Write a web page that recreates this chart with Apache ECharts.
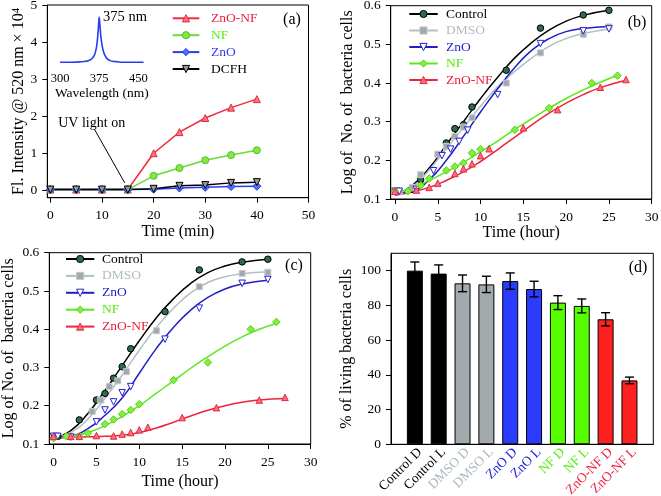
<!DOCTYPE html>
<html><head><meta charset="utf-8">
<script src="https://cdn.jsdelivr.net/npm/echarts@6/dist/echarts.min.js"></script>
<style>html,body{margin:0;padding:0;background:#fff}#c{width:661px;height:496px}</style>
</head><body><div id="c"></div>
<script>
const FONT = '"Liberation Serif", "Times New Roman", serif';

// ---------- Panel (a) ----------
const timeA = [0, 5, 10, 15, 20, 25, 30, 35, 40];
const aZnONF = [0.02, 0.02, 0.02, 0.02, 1.0, 1.57, 1.95, 2.23, 2.46];
const aNF = [0.02, 0.02, 0.02, 0.02, 0.39, 0.6, 0.81, 0.95, 1.08];
const aZnO = [0.02, 0.02, 0.02, 0.02, 0.03, 0.06, 0.08, 0.1, 0.11];
const aDCFH = [0.02, 0.02, 0.02, 0.02, 0.04, 0.12, 0.14, 0.2, 0.22];
const aXTicks = [0, 10, 20, 30, 40, 50];
const aYTicks = [0, 1, 2, 3, 4, 5];
// inset spectrum
const insetWl = [300, 320, 340, 350, 355, 360, 364, 367, 370, 372, 374, 375, 376, 378, 380, 383, 386, 390, 395, 400, 410, 420, 440, 460];
const insetI = [0.01, 0.01, 0.02, 0.03, 0.05, 0.08, 0.13, 0.2, 0.35, 0.55, 0.85, 1.0, 0.88, 0.6, 0.42, 0.25, 0.16, 0.09, 0.05, 0.03, 0.02, 0.01, 0.01, 0.01];
const insetTicks = [300, 375, 450];

// ---------- Panel (b) ----------
const bControlT = [0, 0.5, 2, 3, 6, 7, 8, 9, 13, 17, 22, 25];
const bControl = [0.12, 0.12, 0.125, 0.15, 0.245, 0.282, 0.292, 0.338, 0.433, 0.542, 0.576, 0.588];
const bDMSOT = [0, 0.5, 2, 3, 5, 6, 7, 8, 9, 13, 17, 22, 25];
const bDMSO = [0.12, 0.12, 0.13, 0.163, 0.216, 0.236, 0.262, 0.286, 0.31, 0.40, 0.478, 0.526, 0.545];
const bZnOT = [0, 0.5, 2.5, 4.5, 5.5, 6.5, 7.5, 8.5, 12, 17, 22, 25];
const bZnO = [0.12, 0.12, 0.125, 0.173, 0.212, 0.229, 0.249, 0.278, 0.37, 0.502, 0.535, 0.54];
const bNFT = [0, 1.5, 3, 4, 6, 7, 8, 9, 10, 14, 18, 23, 26];
const bNF = [0.12, 0.12, 0.135, 0.153, 0.174, 0.184, 0.193, 0.219, 0.229, 0.279, 0.335, 0.40, 0.419];
const bZnONFT = [0, 2.5, 4, 5, 7, 8, 9, 10, 11, 15, 19, 24, 27];
const bZnONF = [0.12, 0.123, 0.13, 0.141, 0.166, 0.178, 0.191, 0.212, 0.23, 0.284, 0.331, 0.389, 0.409];
// fitted curves
const fitT25 = [0, 2, 4, 6, 8, 10, 12, 14, 16, 18, 20, 22, 25];
const fitT26 = [0, 2, 4, 6, 8, 10, 12, 14, 16, 18, 20, 22, 24, 26];
const fitT27 = [0, 2, 4, 6, 8, 10, 12, 14, 16, 18, 20, 22, 24, 27];
const bFitControl = [0.11, 0.135, 0.18, 0.24, 0.3, 0.36, 0.415, 0.465, 0.505, 0.537, 0.56, 0.575, 0.588];
const bFitDMSO = [0.115, 0.13, 0.175, 0.23, 0.285, 0.34, 0.39, 0.43, 0.465, 0.495, 0.515, 0.528, 0.54];
const bFitZnO = [0.115, 0.12, 0.15, 0.2, 0.262, 0.325, 0.385, 0.44, 0.485, 0.515, 0.533, 0.541, 0.546];
const bFitNF = [0.115, 0.128, 0.148, 0.17, 0.195, 0.222, 0.25, 0.28, 0.308, 0.335, 0.36, 0.382, 0.402, 0.42];
const bFitZnONF = [0.11, 0.118, 0.13, 0.148, 0.17, 0.197, 0.228, 0.26, 0.292, 0.322, 0.348, 0.37, 0.388, 0.407];

// ---------- Panel (c) ----------
const cControlT = [0, 0.5, 3, 5, 6, 7, 8, 9, 13, 17, 22, 25];
const cControl = [0.12, 0.12, 0.163, 0.215, 0.232, 0.272, 0.302, 0.349, 0.446, 0.555, 0.576, 0.583];
const cDMSOT = [0, 2, 4.5, 5.5, 6.5, 7.5, 8.5, 12, 17, 22, 25];
const cDMSO = [0.12, 0.12, 0.185, 0.215, 0.25, 0.265, 0.289, 0.396, 0.511, 0.546, 0.549];
const cZnOT = [0, 0.5, 2, 5, 6, 7, 8, 9, 13, 17, 22, 25];
const cZnO = [0.12, 0.12, 0.118, 0.158, 0.189, 0.21, 0.234, 0.25, 0.374, 0.455, 0.52, 0.53];
const cNFT = [0, 1.5, 3, 4, 6, 7, 8, 9, 10, 14, 18, 23, 26];
const cNF = [0.115, 0.12, 0.12, 0.128, 0.152, 0.164, 0.178, 0.189, 0.204, 0.267, 0.313, 0.4, 0.419];
const cZnONFT = [0, 2, 3, 5, 7, 8, 9, 10, 11, 15, 19, 24, 27];
const cZnONF = [0.12, 0.12, 0.12, 0.122, 0.121, 0.126, 0.13, 0.137, 0.144, 0.169, 0.195, 0.215, 0.222];
const cFitControl = [0.115, 0.135, 0.18, 0.24, 0.305, 0.37, 0.43, 0.48, 0.52, 0.548, 0.565, 0.575, 0.583];
const cFitDMSO = [0.115, 0.13, 0.165, 0.22, 0.28, 0.345, 0.405, 0.455, 0.495, 0.522, 0.537, 0.545, 0.55];
const cFitZnO = [0.115, 0.12, 0.14, 0.175, 0.22, 0.285, 0.35, 0.405, 0.45, 0.483, 0.505, 0.518, 0.528];
const cFitNF = [0.115, 0.12, 0.13, 0.148, 0.172, 0.2, 0.233, 0.265, 0.298, 0.328, 0.356, 0.38, 0.4, 0.415];
const cFitZnONF = [0.118, 0.118, 0.119, 0.12, 0.123, 0.13, 0.142, 0.157, 0.173, 0.188, 0.2, 0.209, 0.215, 0.219];
const hourTicks = [0, 5, 10, 15, 20, 25, 30];
const logTicks = [0.1, 0.2, 0.3, 0.4, 0.5, 0.6];

// ---------- Panel (d) ----------
const dCats = ['Control D', 'Control L', 'DMSO D', 'DMSO L', 'ZnO D', 'ZnO L', 'NF D', 'NF L', 'ZnO-NF D', 'ZnO-NF L'];
const dVals = [100, 98.3, 92.7, 92.1, 94, 89.4, 81.6, 79.7, 72, 36.8];
const dErr = [5, 5, 4.8, 4.7, 4.7, 4.5, 4, 4, 3.8, 1.9];
const dYTicks = [0, 20, 40, 60, 80, 100];
const dBarColors = ['#000000', '#000000', '#a2aaae', '#a2aaae', '#2b3cff', '#2b3cff', '#55ff00', '#55ff00', '#ff2020', '#ff2020'];
const dLabelColors = ['#000000', '#000000', '#aab8be', '#aab8be', '#2020dd', '#2020dd', '#55ee11', '#55ee11', '#ee2044', '#ee2044'];

// ---------- helpers ----------
const zip = (xs, ys) => xs.map((x, i) => [x, ys[i]]);
const black = { color: '#000', width: 1 };

function valAxis(gi, min, max, ticks, name, nameGap, isY, extra) {
  return Object.assign({
    type: 'value', gridIndex: gi, min: min, max: max,
    name: name, nameLocation: 'middle', nameGap: nameGap, nameRotate: isY ? 90 : 0,
    nameTextStyle: { fontFamily: FONT, fontSize: 16, color: '#000' },
    axisLine: { show: true, onZero: false, lineStyle: black },
    axisTick: { show: true, length: 5, inside: false, lineStyle: black, customValues: ticks },
    axisLabel: { fontFamily: FONT, fontSize: 13.5, color: '#000', margin: isY ? 10 : 11, customValues: ticks },
    splitLine: { show: false }
  }, extra || {});
}

const st = {
  Control: { line: '#000000', sym: 'circle', size: 6.5, rot: 0, fill: '#2d6b4d', border: '#000000', text: '#000000' },
  DMSO: { line: '#b3bec4', sym: 'rect', size: 6, rot: 0, fill: '#a2a9ad', border: '#c5ccd0', text: '#b0bcc2' },
  ZnO: { line: '#1f1fc8', sym: 'triangle', size: 6.5, rot: 180, fill: '#ffffff', border: '#2323d0', text: '#1f1fc8' },
  NF: { line: '#58e81c', sym: 'diamond', size: 7.5, rot: 0, fill: '#7df040', border: '#5acc18', text: '#55e811' },
  'ZnO-NF': { line: '#ee2438', sym: 'triangle', size: 6.5, rot: 0, fill: '#f27084', border: '#e8283c', text: '#ee1c3a' }
};

function fitSeries(panel, key, ai, t, v) {
  const s = st[key];
  return {
    type: 'line', name: panel + '|' + key, xAxisIndex: ai, yAxisIndex: ai,
    data: zip(t, v), smooth: 0.5, showSymbol: false,
    symbol: s.sym, symbolSize: s.size, symbolRotate: s.rot,
    lineStyle: { color: s.line, width: 1.5 },
    itemStyle: { color: s.fill, borderColor: s.border, borderWidth: 1 },
    z: 2, silent: true
  };
}
function ptSeries(panel, key, ai, t, v) {
  const s = st[key];
  return {
    type: 'scatter', name: panel + '|' + key + '|pts', xAxisIndex: ai, yAxisIndex: ai,
    data: zip(t, v), symbol: s.sym, symbolSize: s.size, symbolRotate: s.rot,
    itemStyle: { color: s.fill, borderColor: s.border, borderWidth: 1, opacity: 1 },
    z: 3, silent: true
  };
}

const keys = ['Control', 'DMSO', 'ZnO', 'NF', 'ZnO-NF'];
const bPts = [[bControlT, bControl], [bDMSOT, bDMSO], [bZnOT, bZnO], [bNFT, bNF], [bZnONFT, bZnONF]];
const bFits = [[fitT25, bFitControl], [fitT25, bFitDMSO], [fitT25, bFitZnO], [fitT26, bFitNF], [fitT27, bFitZnONF]];
const cPts = [[cControlT, cControl], [cDMSOT, cDMSO], [cZnOT, cZnO], [cNFT, cNF], [cZnONFT, cZnONF]];
const cFits = [[fitT25, cFitControl], [fitT25, cFitDMSO], [fitT25, cFitZnO], [fitT26, cFitNF], [fitT27, cFitZnONF]];

const series = [];
// (a)
const aStyles = [
  { key: 'ZnO-NF', v: aZnONF, line: '#f02a3a', sym: 'triangle', rot: 0, size: 7, fill: '#f2768a', border: '#e8283c', text: '#ee2040' },
  { key: 'NF', v: aNF, line: '#66dd33', sym: 'circle', rot: 0, size: 7, fill: '#82e84a', border: '#55c022', text: '#55ee11' },
  { key: 'ZnO', v: aZnO, line: '#2a3cf0', sym: 'diamond', rot: 0, size: 8, fill: '#5070ff', border: '#2233dd', text: '#2a3cf0' },
  { key: 'DCFH', v: aDCFH, line: '#000000', sym: 'triangle', rot: 180, size: 7, fill: '#9a9a9a', border: '#000000', text: '#000000' }
];
aStyles.forEach((s) => {
  series.push({
    type: 'line', name: 'a|' + s.key, xAxisIndex: 0, yAxisIndex: 0,
    data: zip(timeA, s.v), symbol: s.sym, symbolSize: s.size, symbolRotate: s.rot, showSymbol: true,
    lineStyle: { color: s.line, width: 1.5 },
    itemStyle: { color: s.fill, borderColor: s.border, borderWidth: 1 },
    z: 3, silent: true
  });
});
// arrow "UV light on"
series[3].markLine = {
  silent: true, symbol: ['none', 'arrow'], symbolSize: [0, 9],
  lineStyle: { color: '#000', width: 1, type: 'solid' }, label: { show: false },
  data: [[{ coord: [8.6, 1.63] }, { coord: [14.4, 0.2] }]]
};
// inset
series.push({
  type: 'line', name: 'inset', xAxisIndex: 1, yAxisIndex: 1, data: zip(insetWl, insetI),
  showSymbol: false, smooth: 0.3, lineStyle: { color: '#2a3cf0', width: 1.6 }, silent: true
});
// (b), (c)
keys.forEach((k, i) => {
  series.push(fitSeries('b', k, 2, bFits[i][0], bFits[i][1]));
  series.push(ptSeries('b', k, 2, bPts[i][0], bPts[i][1]));
  series.push(fitSeries('c', k, 3, cFits[i][0], cFits[i][1]));
  series.push(ptSeries('c', k, 3, cPts[i][0], cPts[i][1]));
});
// (d)
const dCatAxis = [''].concat(dCats, ['']);
const dLabColAxis = ['#000'].concat(dLabelColors, ['#000']);
const dBarData = ['-'].concat(dVals.map((v, i) => ({ value: v, itemStyle: { color: dBarColors[i] } })), ['-']);
series.push({
  type: 'bar', name: 'bars', xAxisIndex: 4, yAxisIndex: 4, data: dBarData, barWidth: 16,
  itemStyle: { borderColor: '#000', borderWidth: 1 }, silent: true, z: 2
});
series.push({
  type: 'custom', name: 'err', xAxisIndex: 4, yAxisIndex: 4, z: 4, silent: true,
  data: dVals.map((v, i) => [i + 1, v - dErr[i], v + dErr[i]]),
  encode: { x: 0, y: [1, 2] },
  renderItem: function (params, api) {
    const x = api.value(0);
    const lo = api.coord([x, api.value(1)]);
    const hi = api.coord([x, api.value(2)]);
    const w = 4.5;
    const sty = { stroke: '#000', lineWidth: 1.4 };
    return {
      type: 'group', children: [
        { type: 'line', shape: { x1: lo[0], y1: lo[1], x2: hi[0], y2: hi[1] }, style: sty },
        { type: 'line', shape: { x1: hi[0] - w, y1: hi[1], x2: hi[0] + w, y2: hi[1] }, style: sty },
        { type: 'line', shape: { x1: lo[0] - w, y1: lo[1], x2: lo[0] + w, y2: lo[1] }, style: sty }
      ]
    };
  }
});

function legendData(panel, list, colors) {
  return list.map((k, i) => ({ name: panel + '|' + k, textStyle: { color: colors[i] } }));
}
const legendCommon = {
  orient: 'vertical', align: 'left', padding: 0, selectedMode: false,
  formatter: (n) => n.split('|')[1],
  itemStyle: { borderWidth: 1 },
  textStyle: { fontFamily: FONT, fontSize: 13.5, lineHeight: 14 }
};

const option = {
  animation: false,
  backgroundColor: '#fff',
  grid: [
    { left: 47.3, top: 5, width: 261.2, height: 192.7, show: true, borderColor: '#000', borderWidth: 1, outerBoundsMode: 'none' },
    { left: 59, top: 17, width: 85.6, height: 45.7, show: false, outerBoundsMode: 'none' },
    { left: 390.7, top: 5.7, width: 261, height: 193.3, show: true, borderColor: '#000', borderWidth: 1, outerBoundsMode: 'none' },
    { left: 49.3, top: 252.7, width: 261.4, height: 191.3, show: true, borderColor: '#000', borderWidth: 1, outerBoundsMode: 'none' },
    { left: 391, top: 253.3, width: 262.3, height: 191, show: true, borderColor: '#000', borderWidth: 1, outerBoundsMode: 'none' }
  ],
  xAxis: [
    valAxis(0, -0.6, 50, aXTicks, 'Time (min)', 18, false),
    valAxis(1, 298, 462, insetTicks, 'Wavelength (nm)', 20, false, {
      axisLine: { show: false, onZero: false }, axisTick: { show: false },
      axisLabel: { fontFamily: FONT, fontSize: 12.5, color: '#000', margin: 10, customValues: insetTicks },
      nameTextStyle: { fontFamily: FONT, fontSize: 13.5, color: '#000' }
    }),
    valAxis(2, -0.5, 30, hourTicks, 'Time (hour)', 25, false),
    valAxis(3, -0.5, 30, hourTicks, 'Time (hour)', 30, false),
    {
      type: 'category', gridIndex: 4, data: dCatAxis, boundaryGap: false,
      axisLine: { show: true, onZero: false, lineStyle: black }, axisTick: { show: false },
      axisLabel: {
        interval: 0, rotate: 45, margin: 1, verticalAlign: 'top',
        fontFamily: FONT, fontSize: 13.5, color: (v, i) => dLabColAxis[i]
      },
      splitLine: { show: false }
    }
  ],
  yAxis: [
    valAxis(0, -0.2, 5, aYTicks, 'Fl. Intensity @ 520 nm × 10⁴', 17, true),
    { type: 'value', gridIndex: 1, min: 0, max: 1, show: false },
    valAxis(2, 0.1, 0.6, logTicks, 'Log of  No. of  bacteria cells', 35, true),
    valAxis(3, 0.1, 0.6, logTicks, 'Log of No. of  bacteria cells', 33, true),
    valAxis(4, 0, 110, dYTicks, '% of living bacteria cells', 36, true)
  ],
  legend: [
    Object.assign({}, legendCommon, {
      left: 171.7, top: 11.3, itemWidth: 26.6, itemHeight: 9, itemGap: 2.9,
      data: legendData('a', aStyles.map(s => s.key), aStyles.map(s => s.text)),
      textStyle: Object.assign({}, legendCommon.textStyle, { padding: [0, 0, 0, 6.7] })
    }),
    Object.assign({}, legendCommon, {
      left: 408.3, top: 7, itemWidth: 28.4, itemHeight: 9, itemGap: 2.5,
      data: legendData('b', keys, keys.map(k => st[k].text)),
      textStyle: Object.assign({}, legendCommon.textStyle, { padding: [0, 0, 0, 3.3] })
    }),
    Object.assign({}, legendCommon, {
      left: 65, top: 252, itemWidth: 28.3, itemHeight: 9, itemGap: 2.9,
      data: legendData('c', keys, keys.map(k => st[k].text)),
      textStyle: Object.assign({}, legendCommon.textStyle, { padding: [0, 0, 0, 2.7] })
    })
  ],
  graphic: [
    { type: 'text', x: 292, y: 20, style: { text: '(a)', font: '16px ' + FONT, fill: '#000', align: 'center', verticalAlign: 'middle' } },
    { type: 'text', x: 637, y: 22.5, style: { text: '(b)', font: '16px ' + FONT, fill: '#000', align: 'center', verticalAlign: 'middle' } },
    { type: 'text', x: 294, y: 266, style: { text: '(c)', font: '16px ' + FONT, fill: '#000', align: 'center', verticalAlign: 'middle' } },
    { type: 'text', x: 638, y: 268, style: { text: '(d)', font: '16px ' + FONT, fill: '#000', align: 'center', verticalAlign: 'middle' } },
    { type: 'text', x: 103, y: 17.5, style: { text: '375 nm', font: '14.5px ' + FONT, fill: '#000', align: 'left', verticalAlign: 'middle' } },
    { type: 'text', x: 91.7, y: 123, style: { text: 'UV light on', font: '14px ' + FONT, fill: '#000', align: 'center', verticalAlign: 'middle' } }
  ],
  series: series
};

const chart = echarts.init(document.getElementById('c'), null, { renderer: 'canvas' });
chart.setOption(option);
</script></body></html>
